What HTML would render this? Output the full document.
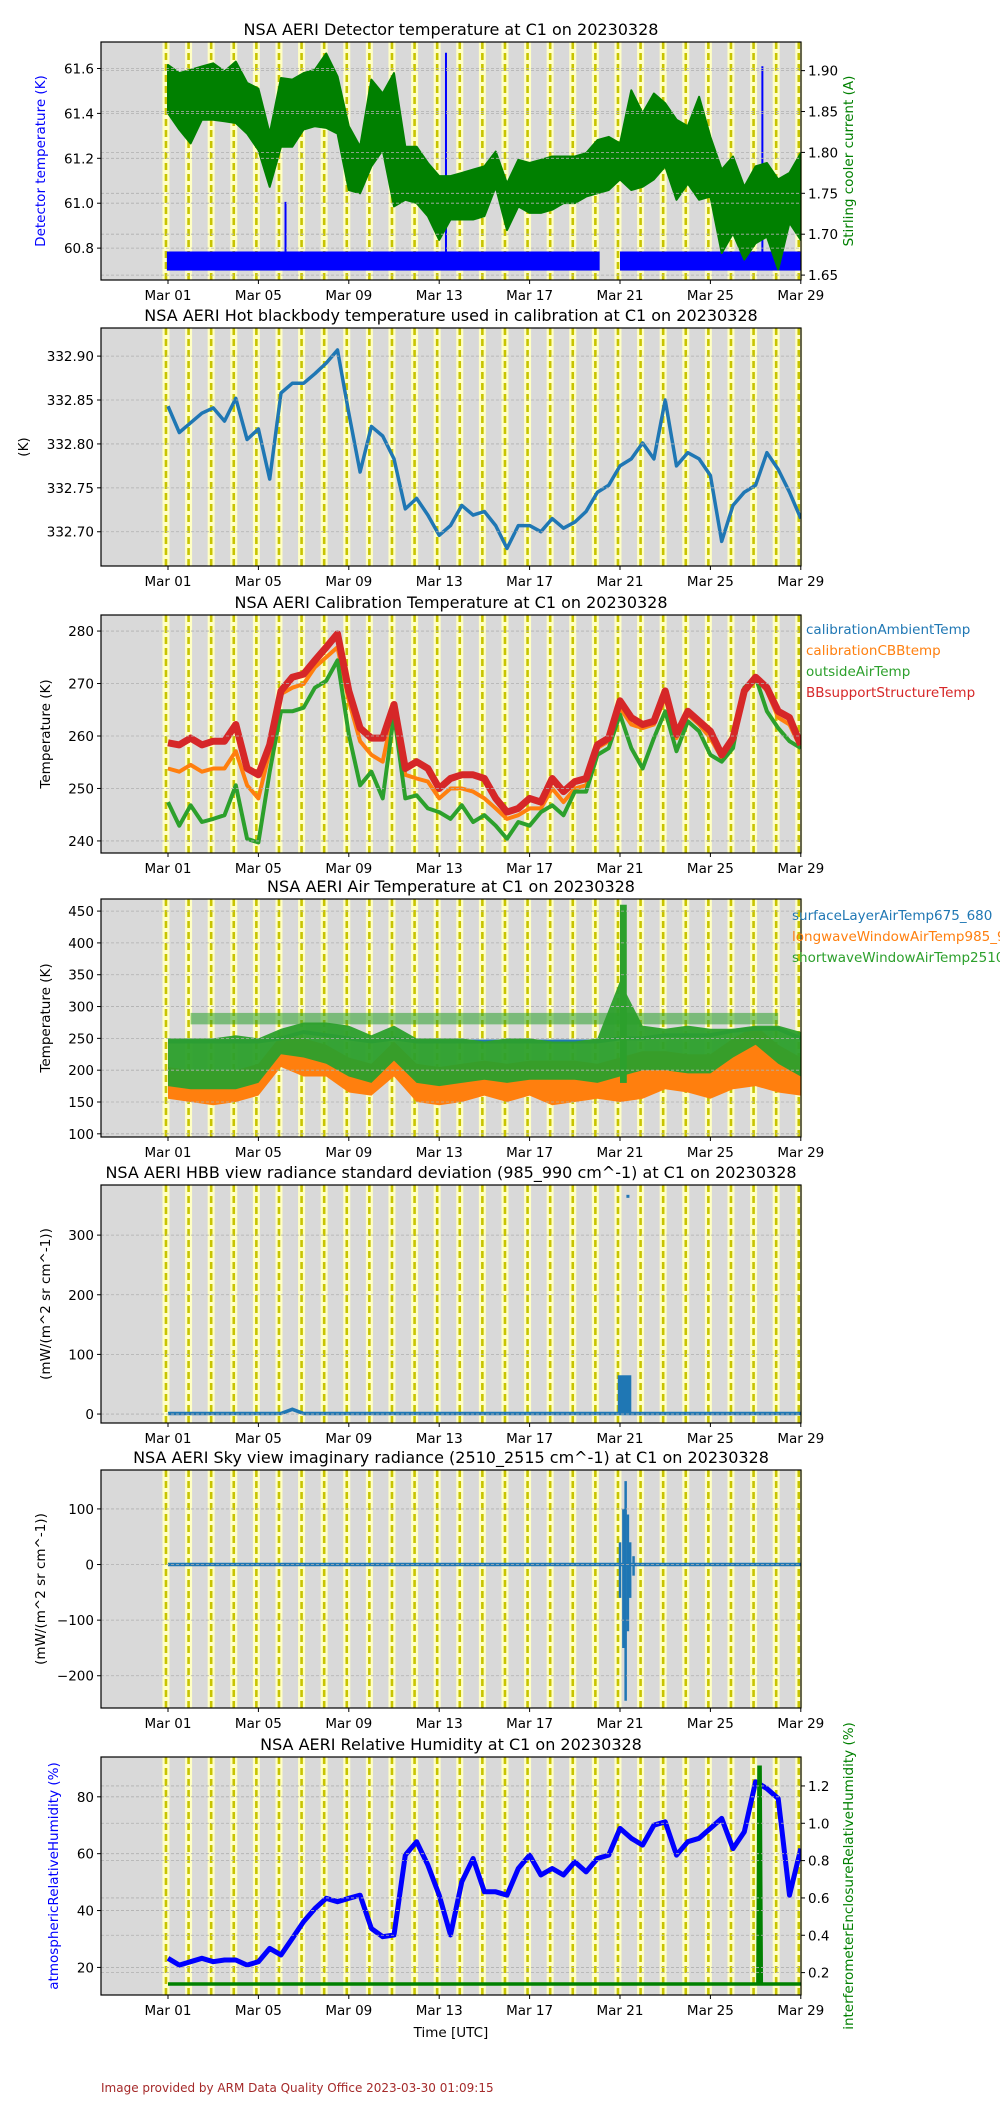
<!DOCTYPE html>
<html><head><meta charset="utf-8"><title>NSA AERI</title>
<style>
html,body{margin:0;padding:0;background:#fff;}
svg text{font-family:"DejaVu Sans","Liberation Sans",sans-serif;}
</style></head>
<body>
<svg id="fig" xmlns="http://www.w3.org/2000/svg" width="1000" height="2100" viewBox="0 0 1000 2100"></svg>
<script>
// ---------- data ----------
const halfDays=[0,0.5,1,1.5,2,2.5,3,3.5,4,4.5,5,5.5,6,6.5,7,7.5,8,8.5,9,9.5,10,10.5,11,11.5,12,12.5,13,13.5,14,14.5,15,15.5,16,16.5,17,17.5,18,18.5,19,19.5,20,20.5,21,21.5,22,22.5,23,23.5,24,24.5,25,25.5,26,26.5,27,27.5,28];
const days=[0,1,2,3,4,5,6,7,8,9,10,11,12,13,14,15,16,17,18,19,20,21,22,23,24,25,26,27,28];
const xTickDays=[0,4,8,12,16,20,24,28];
const xTickLabels=["Mar 01","Mar 05","Mar 09","Mar 13","Mar 17","Mar 21","Mar 25","Mar 29"];

// panel 1
const coolerUpper=[1.907,1.897,1.901,1.905,1.909,1.899,1.911,1.885,1.878,1.823,1.891,1.889,1.897,1.901,1.921,1.893,1.832,1.807,1.889,1.872,1.897,1.807,1.807,1.787,1.771,1.771,1.775,1.779,1.783,1.801,1.762,1.791,1.787,1.791,1.795,1.795,1.795,1.799,1.815,1.819,1.811,1.876,1.848,1.872,1.860,1.840,1.832,1.868,1.819,1.779,1.795,1.758,1.783,1.787,1.767,1.775,1.799];
const coolerLower=[1.848,1.828,1.811,1.840,1.840,1.838,1.836,1.823,1.803,1.758,1.807,1.807,1.828,1.832,1.830,1.823,1.754,1.750,1.783,1.803,1.734,1.742,1.738,1.722,1.693,1.718,1.718,1.718,1.722,1.758,1.705,1.734,1.726,1.726,1.730,1.738,1.738,1.746,1.750,1.754,1.767,1.754,1.758,1.767,1.783,1.742,1.762,1.742,1.746,1.677,1.701,1.669,1.689,1.697,1.657,1.714,1.693];
const detSegStart=[-0.05,20.0];
const detSegEnd=[19.1,28.0];
const detLow=60.70, detHigh=60.785;
const detSpikeDays=[5.2,12.3,26.3];
const detSpikeVals=[61.006,61.67,61.61];

// panel 2
const hbbTemp=[332.843,332.813,332.824,332.835,332.841,332.826,332.852,332.805,332.817,332.760,332.858,332.869,332.869,332.880,332.892,332.907,332.835,332.768,332.820,332.809,332.783,332.726,332.738,332.719,332.696,332.707,332.730,332.719,332.723,332.707,332.681,332.707,332.707,332.700,332.715,332.704,332.711,332.723,332.745,332.753,332.775,332.783,332.801,332.783,332.850,332.775,332.790,332.783,332.764,332.689,332.730,332.745,332.753,332.790,332.771,332.745,332.715];

// panel 3
const bbSupport=[258.7,258.3,259.6,258.3,259.0,259.0,262.2,253.8,252.6,258.3,268.6,271.2,271.8,274.4,276.9,279.5,268.6,261.5,259.6,259.6,266.0,253.8,255.1,253.8,250.0,251.9,252.6,252.6,251.9,248.1,245.5,246.2,248.1,247.4,251.9,249.4,251.3,251.9,258.3,259.6,266.7,263.5,262.2,262.8,268.6,260.3,264.7,262.8,260.9,256.4,259.6,268.6,271.2,269.2,264.7,263.5,258.3];
const cbbTemp=[253.8,253.2,254.5,253.2,253.8,253.8,257.1,250.6,248.1,257.1,268.0,269.2,269.9,273.1,275.0,276.9,266.7,259.0,256.4,255.1,265.4,252.6,251.9,251.3,248.1,250.0,250.0,249.4,248.1,246.2,244.2,244.9,246.2,246.2,250.0,247.4,250.0,250.6,257.7,259.0,265.4,262.2,261.5,262.2,267.3,259.6,264.1,262.2,259.6,255.8,259.0,268.6,271.2,268.6,263.5,262.2,257.7];
const outsideAir=[247.4,242.9,246.8,243.6,244.2,244.9,250.6,240.4,239.7,253.2,264.7,264.7,265.4,269.2,270.5,274.4,260.3,250.6,253.2,248.1,264.1,248.1,248.7,246.2,245.5,244.2,246.8,243.6,244.9,242.9,240.4,243.6,242.9,245.5,246.8,244.9,249.4,249.4,256.4,257.7,264.1,257.7,253.8,259.6,264.7,257.1,262.8,260.9,256.4,255.1,257.7,269.2,271.2,264.7,261.5,259.0,257.7];

// panel 4
const swUpper=[250,250,250,255,250,265,275,275,270,255,270,250,250,250,245,250,250,245,245,250,340,270,265,270,265,265,270,270,260];
const swLower=[175,170,170,170,180,225,220,210,190,180,215,180,175,180,185,180,185,185,185,180,190,200,200,195,195,220,240,210,190];
const lwLower=[155,150,145,150,160,205,190,190,165,160,190,150,145,150,160,150,160,145,150,155,150,155,170,165,155,170,175,165,160];
const surfTemp=[245,245,245,245,245,250,260,255,250,245,250,245,245,245,245,245,245,245,245,245,250,250,255,255,255,262,265,265,250];
const swRowLow=272, swRowHigh=290;
const swSpikeDays=[20.0,20.3];
const swSpikeLow=180, swSpikeHigh=460;

// panel 5
const hbbStdDays=[0,5,5.5,6,10,20,20.5,28];
const hbbStdVals=[1,1,8,1,1,1,1,1];
const hbbBlobDays=[19.9,20.5];
const hbbBlobLow=0, hbbBlobHigh=65;
const hbbOutlierDay=20.35, hbbOutlierVal=365;

// panel 6
const skyImagDays=[0,28];
const skyImagVals=[0,0];
const skySpikeDays=[20.0,20.15,20.25,20.35,20.45,20.6];
const skySpikeLow=[-60,-150,-245,-120,-60,-20];
const skySpikeHigh=[40,100,150,90,40,15];

// panel 7
const atmRH=[23.2,20.8,22.0,23.2,22.0,22.6,22.6,20.8,22.0,26.7,24.4,30.2,36.1,40.7,44.3,43.1,44.3,45.4,33.7,30.8,31.4,59.5,64.2,56.0,45.4,31.4,50.1,58.3,46.6,46.6,45.4,54.8,59.5,52.5,54.8,52.5,57.1,53.6,58.3,59.5,68.9,65.4,63.0,70.0,71.2,59.5,64.2,65.4,68.9,72.4,61.8,67.7,85.3,82.9,79.4,45.4,61.8];
const encDays=[0,26.1,26.15,26.2,26.25,28];
const encRH=[0.139,0.139,1.30,1.30,0.139,0.139];

// ---------- layout ----------
const svg=document.getElementById('fig');
const NS='http://www.w3.org/2000/svg';
const L=101,R=801,H=238,X0=168,DX=22.6;
const tops=[42,328,615,899,1185,1470,1757];
function xs(d){return X0+d*DX;}
function mk(tag,attrs,parent){const e=document.createElementNS(NS,tag);for(const k in attrs)e.setAttribute(k,attrs[k]);(parent||svg).appendChild(e);return e;}
function txt(s,x,y,size,fill,anchor,parent){const t=mk('text',{x:x,y:y,'font-size':size,fill:fill,'text-anchor':anchor||'start'},parent);t.textContent=s;return t;}

function panel(i,title,ymin,ymax,ticks,labels,ylab,ylabColor,ylabX){
  const top=tops[i];
  const g=mk('g',{});
  
  
  const ys=v=>top+H-(v-ymin)/(ymax-ymin)*H;
  const bg=mk('rect',{x:L,y:top,width:R-L,height:H,fill:'#d9d9d9'},g);
  
  
  for(const k of days){
    const cx=xs(k-0.09);
    const b=mk('rect',{x:cx-3.5,y:top,width:7,height:H,fill:'#ffffc4'},g);
    
    
    const dl=mk('line',{x1:cx,x2:cx,y1:top,y2:top+H,stroke:'#c8c400','stroke-width':2.6,'stroke-dasharray':'7,4'},g);
    
    
  }
  const clip=mk('clipPath',{id:'clip'+i},g);
  mk('rect',{x:L,y:top,width:R-L,height:H},clip);
  const plot=mk('g',{'clip-path':'url(#clip'+i+')'},g);
  
  
  const grid=mk('g',{},g);
  
  
  ticks.forEach((v,j)=>{
    const y=ys(v);
    mk('line',{x1:L,x2:R,y1:y,y2:y,stroke:'#b0b0b0','stroke-width':0.8,'stroke-dasharray':'3,2'},grid);
    mk('line',{x1:L-4,x2:L,y1:y,y2:y,stroke:'#000','stroke-width':1},g);
    const t=txt(labels[j],L-7,y+5,13.5,'#000','end',g);
    
    
  });
  xTickDays.forEach((d,j)=>{
    const x=xs(d);
    mk('line',{x1:x,x2:x,y1:top+H,y2:top+H+4,stroke:'#000','stroke-width':1},g);
    const t=txt(xTickLabels[j],x,top+H+20,13.5,'#000','middle',g);
    
    
  });
  const tt=txt(title,451,top-7,16,'#000','middle',g);
  
  
  const yl=txt(ylab,0,0,13.5,ylabColor,'middle',g);
  yl.setAttribute('transform','translate('+ylabX+','+(top+H/2)+') rotate(-90)');
  
  
  return {g:g,plot:plot,ys:ys,top:top};
}
function frame(p){
  const f=mk('rect',{x:L,y:p.top,width:R-L,height:H,fill:'none',stroke:'#000','stroke-width':1.2},p.g);
  
  
}
function rightAxis(p,ymin,ymax,ticks,labels,ylab,color){
  const top=p.top;
  const ys=v=>top+H-(v-ymin)/(ymax-ymin)*H;
  ticks.forEach((v,j)=>{
    const y=ys(v);
    mk('line',{x1:L,x2:R,y1:y,y2:y,stroke:'#b0b0b0','stroke-width':0.8,'stroke-dasharray':'3,2'},p.g);
    mk('line',{x1:R,x2:R+4,y1:y,y2:y,stroke:'#000','stroke-width':1},p.g);
    const t=txt(labels[j],R+7,y+5,13.5,'#000','start',p.g);
    
    
  });
  const yl=txt(ylab,0,0,13.5,color,'middle',p.g);
  yl.setAttribute('transform','translate('+(R+52)+','+(top+H/2)+') rotate(-90)');
  
  
  return ys;
}
function bandPath(xd,up,lo,ysF){
  let d='';
  xd.forEach((v,j)=>{d+=(j?'L':'M')+xs(v).toFixed(1)+','+ysF(up[j]).toFixed(1);});
  for(let j=xd.length-1;j>=0;j--)d+='L'+xs(xd[j]).toFixed(1)+','+ysF(lo[j]).toFixed(1);
  return d+'Z';
}
function linePts(xd,vals,ysF){return xd.map((v,j)=>xs(v).toFixed(1)+','+ysF(vals[j]).toFixed(1)).join(' ');}

// ---------- panel 1 ----------
let p=panel(0,'NSA AERI Detector temperature at C1 on 20230328',60.658,61.718,[60.8,61.0,61.2,61.4,61.6],['60.8','61.0','61.2','61.4','61.6'],'Detector temperature (K)','#0000ff',45);
const ysR1=rightAxis(p,1.644,1.935,[1.65,1.70,1.75,1.80,1.85,1.90],['1.65','1.70','1.75','1.80','1.85','1.90'],'Stirling cooler current (A)','#008000');
detSegStart.forEach((s,j)=>{
  const r=mk('rect',{x:xs(s),y:p.ys(detHigh),width:xs(detSegEnd[j])-xs(s),height:p.ys(detLow)-p.ys(detHigh),fill:'#0000ff'},p.plot);
  
  
});
detSpikeDays.forEach((d,j)=>{
  const l=mk('line',{x1:xs(d),x2:xs(d),y1:p.ys(detHigh),y2:p.ys(detSpikeVals[j]),stroke:'#0000ff','stroke-width':2},p.plot);
  
  
});
let e=mk('path',{d:bandPath(halfDays,coolerUpper,coolerLower,ysR1),fill:'#008000',stroke:'#008000','stroke-width':2,'stroke-linejoin':'round'},p.plot);


frame(p);

// ---------- panel 2 ----------
p=panel(1,'NSA AERI Hot blackbody temperature used in calibration at C1 on 20230328',332.661,332.932,[332.70,332.75,332.80,332.85,332.90],['332.70','332.75','332.80','332.85','332.90'],'(K)','#000',28);
e=mk('polyline',{points:linePts(halfDays,hbbTemp,p.ys),fill:'none',stroke:'#1f77b4','stroke-width':3.5,'stroke-linejoin':'round'},p.plot);


frame(p);

// ---------- panel 3 ----------
p=panel(2,'NSA AERI Calibration Temperature at C1 on 20230328',237.7,283.06,[240,250,260,270,280],['240','250','260','270','280'],'Temperature (K)','#000',50);
[[cbbTemp,'#1f77b4',3,'calibration-ambient-line'],[cbbTemp,'#ff7f0e',4,'calibration-cbb-line'],[outsideAir,'#2ca02c',4,'outside-air-line'],[bbSupport,'#d62728',7,'bb-support-line']].forEach(s=>{
  const l=mk('polyline',{points:linePts(halfDays,s[0],p.ys),fill:'none',stroke:s[1],'stroke-width':s[2],'stroke-linejoin':'round'},p.plot);
  
  
});
frame(p);
[['calibrationAmbientTemp','#1f77b4'],['calibrationCBBtemp','#ff7f0e'],['outsideAirTemp','#2ca02c'],['BBsupportStructureTemp','#d62728']].forEach((s,j)=>{
  const t=txt(s[0],806,634+j*21,13.5,s[1],'start');
  
  
});

// ---------- panel 4 ----------
p=panel(3,'NSA AERI Air Temperature at C1 on 20230328',95,469,[100,150,200,250,300,350,400,450],['100','150','200','250','300','350','400','450'],'Temperature (K)','#000',50);
e=mk('path',{d:bandPath(days,swLower.map(v=>v+30),lwLower,p.ys),fill:'#ff7f0e'},p.plot);


e=mk('polyline',{points:linePts(days,surfTemp,p.ys),fill:'none',stroke:'#1f77b4','stroke-width':4},p.plot);


e=mk('path',{d:bandPath(days,swUpper,swLower,p.ys),fill:'#2ca02c',opacity:0.95},p.plot);


e=mk('rect',{x:xs(1),y:p.ys(swRowHigh),width:xs(27)-xs(1),height:p.ys(swRowLow)-p.ys(swRowHigh),fill:'#2ca02c',opacity:0.55},p.plot);


e=mk('rect',{x:xs(swSpikeDays[0]),y:p.ys(swSpikeHigh),width:xs(swSpikeDays[1])-xs(swSpikeDays[0]),height:p.ys(swSpikeLow)-p.ys(swSpikeHigh),fill:'#2ca02c'},p.plot);


frame(p);
[['surfaceLayerAirTemp675_680','#1f77b4'],['longwaveWindowAirTemp985_990','#ff7f0e'],['shortwaveWindowAirTemp2510_2515','#2ca02c']].forEach((s,j)=>{
  const t=txt(s[0],792,920+j*21,13.5,s[1],'start');
  
  
});

// ---------- panel 5 ----------
p=panel(4,'NSA AERI HBB view radiance standard deviation (985_990 cm^-1) at C1 on 20230328',-15,384,[0,100,200,300],['0','100','200','300'],'(mW/(m^2 sr cm^-1))','#000',50);
e=mk('polyline',{points:linePts(hbbStdDays,hbbStdVals,p.ys),fill:'none',stroke:'#1f77b4','stroke-width':3.5},p.plot);


e=mk('rect',{x:xs(hbbBlobDays[0]),y:p.ys(hbbBlobHigh),width:xs(hbbBlobDays[1])-xs(hbbBlobDays[0]),height:p.ys(hbbBlobLow)-p.ys(hbbBlobHigh),fill:'#1f77b4'},p.plot);


e=mk('rect',{x:xs(hbbOutlierDay)-1.5,y:p.ys(hbbOutlierVal)-1.5,width:3,height:3,fill:'#1f77b4'},p.plot);


frame(p);

// ---------- panel 6 ----------
p=panel(5,'NSA AERI Sky view imaginary radiance (2510_2515 cm^-1) at C1 on 20230328',-258,170,[-200,-100,0,100],['\u2212200','\u2212100','0','100'],'(mW/(m^2 sr cm^-1))','#000',45);
e=mk('polyline',{points:linePts(skyImagDays,skyImagVals,p.ys),fill:'none',stroke:'#1f77b4','stroke-width':3.5},p.plot);


skySpikeDays.forEach((d,j)=>{
  const l=mk('line',{x1:xs(d),x2:xs(d),y1:p.ys(skySpikeHigh[j]),y2:p.ys(skySpikeLow[j]),stroke:'#1f77b4','stroke-width':2.5},p.plot);
  
  
});
frame(p);

// ---------- panel 7 ----------
p=panel(6,'NSA AERI Relative Humidity at C1 on 20230328',10.3,94,[20,40,60,80],['20','40','60','80'],'atmosphericRelativeHumidity (%)','#0000ff',58);
const ysR7=rightAxis(p,0.08,1.355,[0.2,0.4,0.6,0.8,1.0,1.2],['0.2','0.4','0.6','0.8','1.0','1.2'],'interferometerEnclosureRelativeHumidity (%)','#008000');
e=mk('polyline',{points:linePts(halfDays,atmRH,p.ys),fill:'none',stroke:'#0000ff','stroke-width':5,'stroke-linejoin':'round'},p.plot);


e=mk('polyline',{points:linePts(encDays,encRH,ysR7),fill:'none',stroke:'#008000','stroke-width':3.5},p.plot);


frame(p);

e=txt('Time [UTC]',451,2037,13.5,'#000','middle');


e=txt('Image provided by ARM Data Quality Office 2023-03-30 01:09:15',101,2092,12,'#a52a2a','start');


</script>
</body></html>
